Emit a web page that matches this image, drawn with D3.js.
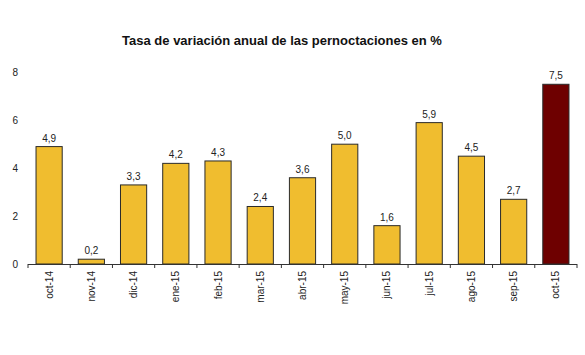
<!DOCTYPE html>
<html>
<head>
<meta charset="utf-8">
<script src="https://cdn.jsdelivr.net/npm/d3@7"></script>
<style>
  body { margin: 0; background: #fff; }
  text { font-family: "Liberation Sans", Arial, sans-serif; }
</style>
</head>
<body>
<svg id="chart" width="585" height="355"></svg>
<script>
const categories = ["oct-14","nov-14","dic-14","ene-15","feb-15","mar-15","abr-15","may-15","jun-15","jul-15","ago-15","sep-15","oct-15"];
const values = [4.9, 0.2, 3.3, 4.2, 4.3, 2.4, 3.6, 5.0, 1.6, 5.9, 4.5, 2.7, 7.5];
const yTicks = [0, 2, 4, 6, 8];
const title = "Tasa de variación anual de las pernoctaciones en %";

const svg = d3.select("#chart");
const x = d3.scaleBand().domain(categories).range([28, 577]).paddingInner(0.38).paddingOuter(0.19);
const y = d3.scaleLinear().domain([0, 8]).range([264, 72.3]);

svg.append("text")
  .attr("x", 282).attr("y", 45)
  .attr("text-anchor", "middle")
  .attr("font-weight", "bold").attr("font-size", 13)
  .attr("fill", "#111")
  .text(title);

// y labels
svg.selectAll(".ylab").data(yTicks).enter().append("text")
  .attr("x", 18).attr("y", d => y(d) + 4)
  .attr("text-anchor", "end").attr("font-size", 10).attr("fill", "#222")
  .text(d => d);

// bars
svg.selectAll(".bar").data(values).enter().append("rect")
  .attr("x", (d, i) => x(categories[i]))
  .attr("y", d => y(d))
  .attr("width", x.bandwidth())
  .attr("height", d => y(0) - y(d))
  .attr("fill", (d, i) => i === categories.length - 1 ? "#6e0000" : "#f0bd2f")
  .attr("stroke", "#2a2a2a").attr("stroke-width", 1);

// value labels
svg.selectAll(".vlab").data(values).enter().append("text")
  .attr("x", (d, i) => x(categories[i]) + x.bandwidth() / 2)
  .attr("y", d => y(d) - 5)
  .attr("text-anchor", "middle").attr("font-size", 10).attr("fill", "#222")
  .text(d => d.toFixed(1).replace(".", ","));

// x axis line
const step = x.step();
svg.append("line")
  .attr("x1", 28).attr("x2", 577).attr("y1", y(0) + 0.5).attr("y2", y(0) + 0.5)
  .attr("stroke", "#333").attr("stroke-width", 1);
// ticks at band boundaries
const bounds = d3.range(categories.length + 1).map(i => 28 + i * (577 - 28) / categories.length);
svg.selectAll(".tick").data(bounds).enter().append("line")
  .attr("x1", d => d).attr("x2", d => d)
  .attr("y1", y(0)).attr("y2", y(0) + 4)
  .attr("stroke", "#333").attr("stroke-width", 1);

// x labels
svg.selectAll(".xlab").data(categories).enter().append("text")
  .attr("transform", d => `translate(${x(d) + x.bandwidth() / 2 + 3.5},${y(0) + 7}) rotate(-90)`)
  .attr("text-anchor", "end").attr("font-size", 10).attr("fill", "#222")
  .text(d => d);
</script>
</body>
</html>
